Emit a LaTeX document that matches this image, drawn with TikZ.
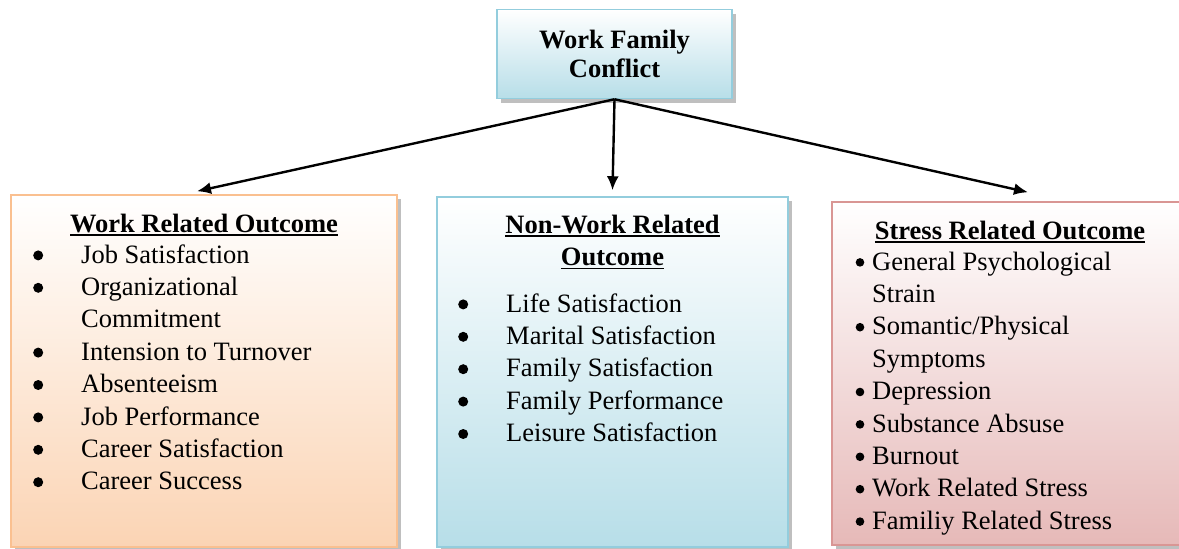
\documentclass[tikz,border=0pt]{standalone}
\usepackage{fontspec}
\setmainfont{Liberation Serif}
\usetikzlibrary{arrows.meta, shadows}

\definecolor{bluefill}{HTML}{B7DEE8}
\definecolor{blueline}{HTML}{93CDDD}
\definecolor{orangefill}{HTML}{FBD4B4}
\definecolor{orangeline}{HTML}{FAC090}
\definecolor{pinkfill}{HTML}{E6B9B8}
\definecolor{pinkline}{HTML}{D99694}

\newcommand{\bigfont}{\fontsize{26.5}{32.4}\selectfont}
% underlined heading text
\newcommand{\uhead}[1]{\setbox0\hbox{#1}\rlap{\usebox0}\rule[-3.8pt]{\wd0}{1.6pt}}
% list bullets
\newcommand{\bltbig}{\tikz[baseline=0pt, x=1pt, y=1pt]\fill (5,7.6) circle (5);}
\newcommand{\bltsmall}{\tikz[baseline=0pt, x=1pt, y=1pt]\fill (4.3,7.6) circle (4.3);}

\tikzset{
  outbox/.style={draw, line width=1.5pt, inner sep=0,
    drop shadow={shadow xshift=4pt, shadow yshift=-4pt, fill=black!55, opacity=.45}},
  heading/.style={anchor=base, inner sep=0, font=\bigfont\bfseries},
  itemlist/.style={anchor=base west, inner sep=0, font=\bigfont},
  arr/.style={->, line width=2.4pt, >={Latex[length=14pt,width=12pt]}}
}

\begin{document}
\begin{tikzpicture}[x=1pt, y=-1pt]
\useasboundingbox[fill=white] (0,0) rectangle (1179,549);

% top box
\node[outbox, draw=blueline, top color=white, bottom color=bluefill,
  minimum width=235pt, minimum height=89pt, align=center,
  font=\fontsize{26.5}{29}\selectfont\bfseries] (wfc) at (614.5,54) {Work Family\\Conflict};

% the three outcome boxes
\node[outbox, draw=orangeline, top color=white, bottom color=orangefill,
  minimum width=386pt, minimum height=352pt] (work) at (204,371) {};
\node[outbox, draw=blueline, top color=white, bottom color=bluefill,
  minimum width=351pt, minimum height=350pt] (nonwork) at (612.5,372) {};
\node[outbox, draw=pinkline, top color=white, bottom color=pinkfill,
  minimum width=356pt, minimum height=343pt] (stress) at (1010,373.5) {};

\draw[arr] (wfc.south) -- ([xshift=-7pt, yshift=3pt]work.north);
\draw[arr] (wfc.south) -- ([yshift=6pt]nonwork.north);
\draw[arr] (wfc.south) -- ([xshift=18pt, yshift=9pt]stress.north);

% work related
\node[heading] (workhead) at (204,232) {\uhead{Work Related Outcome}};
\node[itemlist] (worklist) at (33,263) {\begin{tabular}[t]{@{}p{48pt}@{}l@{}}
\bltbig & Job Satisfaction\\
\bltbig & Organizational\\
 & Commitment\\
\bltbig & Intension to Turnover\\
\bltbig & Absenteeism\\
\bltbig & Job Performance\\
\bltbig & Career Satisfaction\\
\bltbig & Career Success
\end{tabular}};

% non-work related
\node[heading] (nonworkhead) at (612.5,233) {\begin{tabular}[t]{@{}c@{}}
\uhead{Non-Work Related}\\ \uhead{Outcome}\end{tabular}};
\node[itemlist] (nonworklist) at (458,312) {\begin{tabular}[t]{@{}p{48pt}@{}l@{}}
\bltbig & Life Satisfaction\\
\bltbig & Marital Satisfaction\\
\bltbig & Family Satisfaction\\
\bltbig & Family Performance\\
\bltbig & Leisure Satisfaction
\end{tabular}};

% stress related
\node[heading] (stresshead) at (1010,239) {\uhead{Stress Related Outcome}};
\node[itemlist] (stresslist) at (855.5,270) {\begin{tabular}[t]{@{}p{16.5pt}@{}l@{}}
\bltsmall & General Psychological\\
 & Strain\\
\bltsmall & Somantic/Physical\\
 & Symptoms\\
\bltsmall & Depression\\
\bltsmall & Substance Absuse\\
\bltsmall & Burnout\\
\bltsmall & Work Related Stress\\
\bltsmall & Familiy Related Stress
\end{tabular}};

\end{tikzpicture}
\end{document}
